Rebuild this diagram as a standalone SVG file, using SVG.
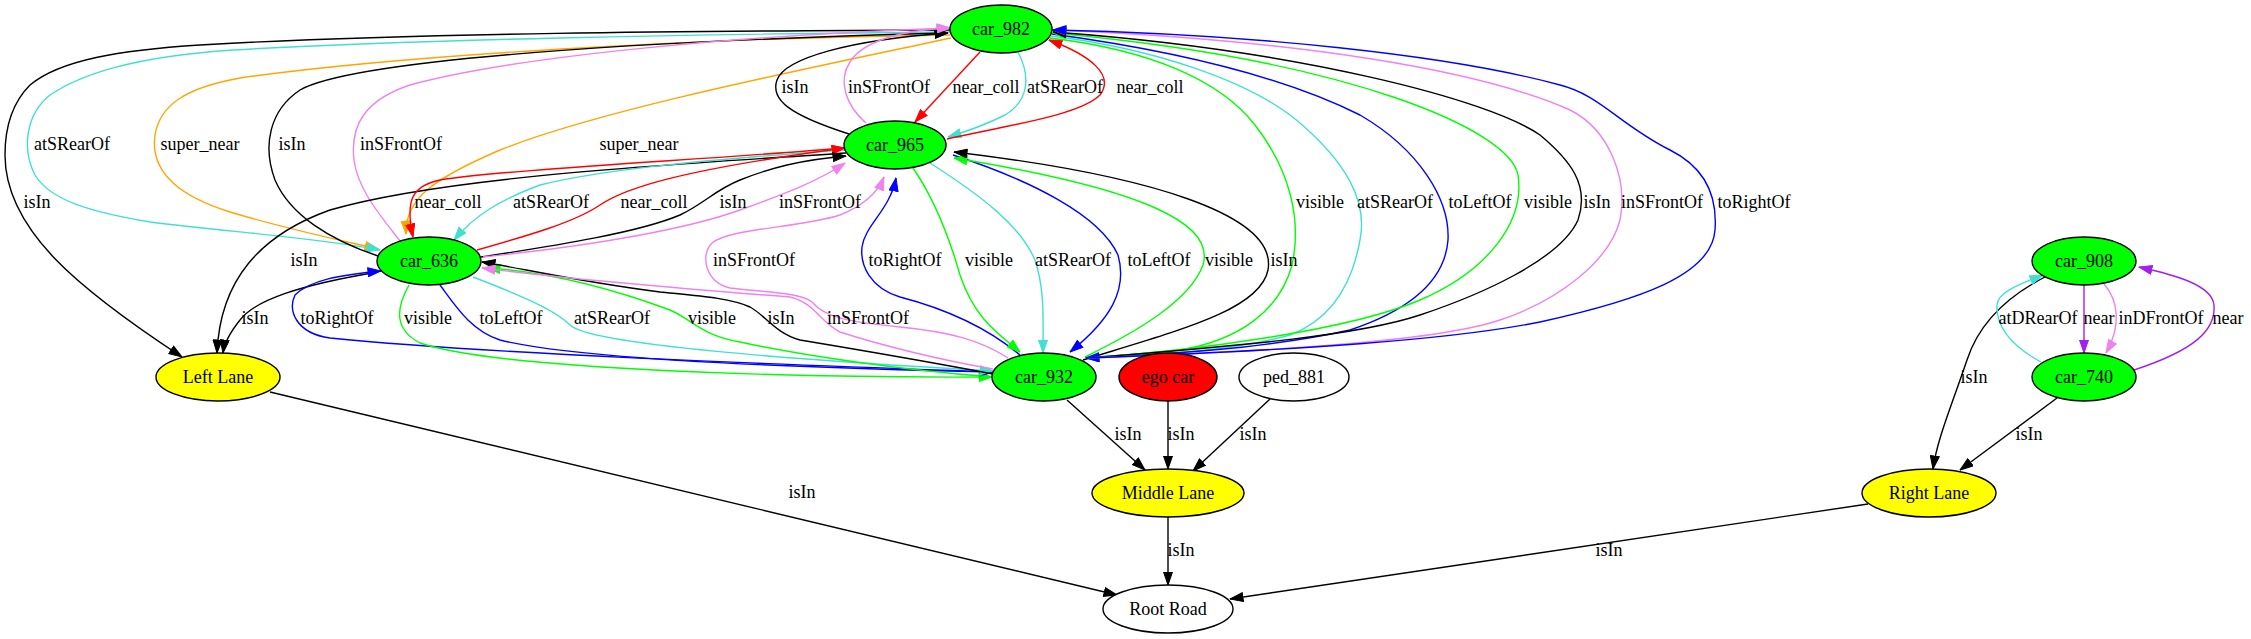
<svg xmlns="http://www.w3.org/2000/svg" width="2251" height="639" viewBox="0 0 2251 639">
<style>
.e{fill:none;stroke-width:1.4}
.k{stroke:#000}.t{stroke:#40e0d0}.o{stroke:#ffa500}.v{stroke:#ee82ee}.r{stroke:#ff0000}.b{stroke:#0000ff}.g{stroke:#00ff00}.p{stroke:#a020f0}
.k{marker-end:url(#ak)}.t{marker-end:url(#at)}.o{marker-end:url(#ao)}.v{marker-end:url(#av)}.r{marker-end:url(#ar)}.b{marker-end:url(#ab)}.g{marker-end:url(#ag)}.p{marker-end:url(#ap)}
.n{stroke:#000;stroke-width:1.4}
.c{text-anchor:middle}
</style>
<defs>
<marker id="ak" viewBox="0 0 14 10" refX="13.5" refY="5" markerWidth="14" markerHeight="10" markerUnits="userSpaceOnUse" orient="auto"><path d="M0.5,0.5 L13.5,5 L0.5,9.5 z" fill="#000" stroke="#000"/></marker>
<marker id="at" viewBox="0 0 14 10" refX="13.5" refY="5" markerWidth="14" markerHeight="10" markerUnits="userSpaceOnUse" orient="auto"><path d="M0.5,0.5 L13.5,5 L0.5,9.5 z" fill="#40e0d0" stroke="#40e0d0"/></marker>
<marker id="ao" viewBox="0 0 14 10" refX="13.5" refY="5" markerWidth="14" markerHeight="10" markerUnits="userSpaceOnUse" orient="auto"><path d="M0.5,0.5 L13.5,5 L0.5,9.5 z" fill="#ffa500" stroke="#ffa500"/></marker>
<marker id="av" viewBox="0 0 14 10" refX="13.5" refY="5" markerWidth="14" markerHeight="10" markerUnits="userSpaceOnUse" orient="auto"><path d="M0.5,0.5 L13.5,5 L0.5,9.5 z" fill="#ee82ee" stroke="#ee82ee"/></marker>
<marker id="ar" viewBox="0 0 14 10" refX="13.5" refY="5" markerWidth="14" markerHeight="10" markerUnits="userSpaceOnUse" orient="auto"><path d="M0.5,0.5 L13.5,5 L0.5,9.5 z" fill="#ff0000" stroke="#ff0000"/></marker>
<marker id="ab" viewBox="0 0 14 10" refX="13.5" refY="5" markerWidth="14" markerHeight="10" markerUnits="userSpaceOnUse" orient="auto"><path d="M0.5,0.5 L13.5,5 L0.5,9.5 z" fill="#0000ff" stroke="#0000ff"/></marker>
<marker id="ag" viewBox="0 0 14 10" refX="13.5" refY="5" markerWidth="14" markerHeight="10" markerUnits="userSpaceOnUse" orient="auto"><path d="M0.5,0.5 L13.5,5 L0.5,9.5 z" fill="#00ff00" stroke="#00ff00"/></marker>
<marker id="ap" viewBox="0 0 14 10" refX="13.5" refY="5" markerWidth="14" markerHeight="10" markerUnits="userSpaceOnUse" orient="auto"><path d="M0.5,0.5 L13.5,5 L0.5,9.5 z" fill="#a020f0" stroke="#a020f0"/></marker>
</defs>
<rect x="0" y="0" width="2251" height="639" fill="#fff"/>
<g id="connectors">
<path class="e k" d="M950,30 C700,31 400,33 200,45 C120,50 60,60 30,85 C10,105 5,130 5,155 C5,230 80,290 182,357"/>
<path class="e o" d="M950,35 C700,38 400,55 240,78 C185,88 160,105 155,135 C150,170 175,195 230,212 C290,230 340,240 378,249"/>
<path class="e t" d="M950,32 C700,34 400,40 233,50 C130,57 80,75 50,95 C25,115 22,150 35,175 C50,200 90,212 150,222 C230,232 320,238 380,250"/>
<path class="e k" d="M378,256 C330,240 290,215 275,180 C262,145 270,110 300,90 C350,62 600,42 948,33"/>
<path class="e v" d="M400,241 C380,215 358,190 354,160 C350,125 365,100 410,85 C520,55 750,35 950,28"/>
<path class="e o" d="M951,38 C800,70 600,110 500,150 C430,180 405,200 406,234"/>
<path class="e k" d="M849,134 C790,115 770,100 777,80 C785,58 850,40 948,33"/>
<path class="e v" d="M866,123 C845,105 838,80 850,62 C862,42 900,30 950,28"/>
<path class="e r" d="M980,52 L915,122"/>
<path class="e t" d="M1018,52 C1030,75 1030,100 1005,115 C985,125 965,132 948,137"/>
<path class="e r" d="M947,139 C1010,125 1080,115 1100,95 C1115,75 1090,55 1049,40"/>
<path class="e k" d="M846,153 C700,163 450,175 330,210 C260,235 220,280 217,353"/>
<path class="e k" d="M378,272 C300,285 255,300 240,320 C228,335 224,345 223,353"/>
<path class="e r" d="M845,148 C700,160 500,170 440,180 C412,186 405,200 413,237"/>
<path class="e t" d="M845,150 C700,160 600,170 540,185 C500,200 475,215 454,240"/>
<path class="e r" d="M477,250 C530,235 575,222 600,205 C625,188 680,170 845,148"/>
<path class="e k" d="M481,257 C560,245 640,232 680,215 C705,203 715,190 740,180 C770,168 800,160 846,156"/>
<path class="e v" d="M483,257 C600,245 690,228 740,210 C790,192 820,180 845,163"/>
<path class="e b" d="M993,372 C800,365 500,355 330,338 C295,333 288,310 295,295 C310,280 340,275 381,271"/>
<path class="e g" d="M409,285 C395,310 395,330 420,343 C500,370 800,378 992,377"/>
<path class="e b" d="M440,285 C455,305 470,330 500,340 C580,360 800,368 993,372"/>
<path class="e t" d="M473,277 C520,295 555,310 570,325 C590,345 800,360 993,371"/>
<path class="e g" d="M993,377 C900,370 800,355 740,342 C700,335 690,318 670,310 C610,288 550,272 487,268"/>
<path class="e k" d="M993,374 C930,362 860,350 800,340 C775,333 765,315 750,307 C730,298 700,296 660,292 C580,282 520,268 482,262"/>
<path class="e v" d="M993,369 C940,360 880,345 840,332 C820,322 815,303 790,297 C700,290 560,278 482,268"/>
<path class="e v" d="M1008,358 C980,340 950,332 900,327 C850,322 825,318 812,302 C800,292 760,292 730,288 C705,282 700,255 712,243 C730,228 800,228 840,215 C865,205 878,192 884,177"/>
<path class="e b" d="M1020,355 C990,330 950,310 900,297 C870,288 860,265 862,247 C865,225 890,210 896,178"/>
<path class="e g" d="M913,168 C935,200 950,240 960,275 C975,320 1000,335 1020,352"/>
<path class="e t" d="M930,163 C980,195 1020,225 1035,260 C1045,290 1043,320 1043,353"/>
<path class="e b" d="M953,155 C1030,180 1100,215 1118,255 C1128,290 1110,320 1070,352"/>
<path class="e g" d="M1085,357 C1140,330 1190,300 1203,265 C1215,225 1150,190 954,158"/>
<path class="e k" d="M1083,360 C1180,330 1260,310 1268,270 C1278,215 1150,175 954,152"/>
<path class="e g" d="M1050,38 C1150,50 1220,80 1255,125 C1290,170 1302,220 1292,265 C1280,310 1240,340 1180,350 C1140,354 1110,356 1086,358"/>
<path class="e t" d="M1051,36 C1150,48 1250,80 1300,123 C1345,162 1368,200 1360,240 C1352,285 1330,320 1290,335 C1230,352 1150,355 1086,358"/>
<path class="e b" d="M1052,34 C1170,50 1280,75 1360,115 C1420,150 1450,200 1448,240 C1445,280 1410,310 1350,330 C1260,350 1150,355 1086,358"/>
<path class="e g" d="M1088,358 C1200,350 1350,330 1420,300 C1490,270 1525,220 1518,175 C1510,130 1350,60 1053,33"/>
<path class="e k" d="M1088,358 C1250,345 1360,335 1420,315 C1480,295 1560,260 1578,220 C1590,185 1570,160 1540,135 C1490,100 1300,50 1053,32"/>
<path class="e v" d="M1088,358 C1300,350 1440,340 1500,320 C1560,300 1610,260 1620,220 C1628,180 1610,130 1570,110 C1480,70 1300,40 1053,30"/>
<path class="e b" d="M1088,358 C1300,350 1450,340 1540,322 C1640,300 1712,275 1715,230 C1718,190 1700,165 1670,150 C1620,125 1600,95 1560,85 C1450,55 1250,34 1053,30"/>
<path class="e k" d="M1067,400 L1145,470"/>
<path class="e k" d="M1168,401 L1168,469"/>
<path class="e k" d="M1270,399 L1193,471"/>
<path class="e k" d="M1168,517 L1168,585"/>
<path class="e k" d="M270,392 L1117,595"/>
<path class="e k" d="M1868,504 L1230,599"/>
<path class="e k" d="M2045,277 C2010,295 1980,320 1967,360 C1950,410 1937,440 1933,469"/>
<path class="e t" d="M2041,362 C2010,345 1996,325 1997,305 C1998,292 2018,285 2043,275"/>
<path class="e p" d="M2084,285 L2084,353"/>
<path class="e v" d="M2104,284 C2118,300 2122,325 2106,353"/>
<path class="e p" d="M2134,370 C2195,350 2216,330 2214,305 C2212,285 2175,275 2139,267"/>
<path class="e k" d="M2057,398 L1960,470"/>
</g>
<g id="edge-labels" font-family="'Liberation Serif', 'Times New Roman', 'DejaVu Serif', serif" font-size="18" fill="#000" text-anchor="middle">
<text x="37" y="208">isIn</text>
<text x="72" y="150">atSRearOf</text>
<text x="200" y="150">super_near</text>
<text x="292" y="150">isIn</text>
<text x="401" y="150">inSFrontOf</text>
<text x="639" y="150">super_near</text>
<text x="795" y="93">isIn</text>
<text x="889" y="93">inSFrontOf</text>
<text x="986" y="93">near_coll</text>
<text x="1065" y="93">atSRearOf</text>
<text x="1150" y="93">near_coll</text>
<text x="448" y="208">near_coll</text>
<text x="551" y="208">atSRearOf</text>
<text x="654" y="208">near_coll</text>
<text x="733" y="208">isIn</text>
<text x="820" y="208">inSFrontOf</text>
<text x="304" y="266">isIn</text>
<text x="754" y="266">inSFrontOf</text>
<text x="905" y="266">toRightOf</text>
<text x="989" y="266">visible</text>
<text x="1073" y="266">atSRearOf</text>
<text x="1159" y="266">toLeftOf</text>
<text x="1229" y="266">visible</text>
<text x="1284" y="266">isIn</text>
<text x="255" y="324">isIn</text>
<text x="337" y="324">toRightOf</text>
<text x="428" y="324">visible</text>
<text x="511" y="324">toLeftOf</text>
<text x="612" y="324">atSRearOf</text>
<text x="712" y="324">visible</text>
<text x="781" y="324">isIn</text>
<text x="868" y="324">inSFrontOf</text>
<text x="1320" y="208">visible</text>
<text x="1395" y="208">atSRearOf</text>
<text x="1480" y="208">toLeftOf</text>
<text x="1548" y="208">visible</text>
<text x="1597" y="208">isIn</text>
<text x="1662" y="208">inSFrontOf</text>
<text x="1754" y="208">toRightOf</text>
<text x="1128" y="440">isIn</text>
<text x="1181" y="440">isIn</text>
<text x="1253" y="440">isIn</text>
<text x="1181" y="556">isIn</text>
<text x="802" y="498">isIn</text>
<text x="1609" y="556">isIn</text>
<text x="1974" y="383">isIn</text>
<text x="2029" y="440">isIn</text>
<text x="2038" y="324">atDRearOf</text>
<text x="2099" y="324">near</text>
<text x="2161" y="324">inDFrontOf</text>
<text x="2228" y="324">near</text>
</g>
<g id="nodes" font-family="'Liberation Serif', 'Times New Roman', 'DejaVu Serif', serif" font-size="18" fill="#000" text-anchor="middle">
<g id="car_982"><ellipse class="n" cx="1001" cy="29" rx="51" ry="24" fill="#00ff00"/><text x="1001" y="35">car_982</text></g>
<g id="car_965"><ellipse class="n" cx="895" cy="145" rx="51" ry="24" fill="#00ff00"/><text x="895" y="151">car_965</text></g>
<g id="car_636"><ellipse class="n" cx="429" cy="261" rx="52" ry="24" fill="#00ff00"/><text x="429" y="267">car_636</text></g>
<g id="car_932"><ellipse class="n" cx="1044" cy="377" rx="52" ry="24" fill="#00ff00"/><text x="1044" y="383">car_932</text></g>
<g id="ego_car"><ellipse class="n" cx="1168" cy="377" rx="49" ry="24" fill="#ff0000"/><text x="1168" y="383">ego car</text></g>
<g id="ped_881"><ellipse class="n" cx="1294" cy="377" rx="55" ry="24" fill="#fff"/><text x="1294" y="383">ped_881</text></g>
<g id="left_lane"><ellipse class="n" cx="218" cy="377" rx="62" ry="24" fill="#ffff00"/><text x="218" y="383">Left Lane</text></g>
<g id="middle_lane"><ellipse class="n" cx="1168" cy="493" rx="76" ry="24" fill="#ffff00"/><text x="1168" y="499">Middle Lane</text></g>
<g id="root_road"><ellipse class="n" cx="1168" cy="609" rx="65" ry="24" fill="#fff"/><text x="1168" y="615">Root Road</text></g>
<g id="right_lane"><ellipse class="n" cx="1929" cy="493" rx="67" ry="24" fill="#ffff00"/><text x="1929" y="499">Right Lane</text></g>
<g id="car_908"><ellipse class="n" cx="2084" cy="261" rx="52" ry="24" fill="#00ff00"/><text x="2084" y="267">car_908</text></g>
<g id="car_740"><ellipse class="n" cx="2084" cy="377" rx="52" ry="24" fill="#00ff00"/><text x="2084" y="383">car_740</text></g>
</g>
</svg>
